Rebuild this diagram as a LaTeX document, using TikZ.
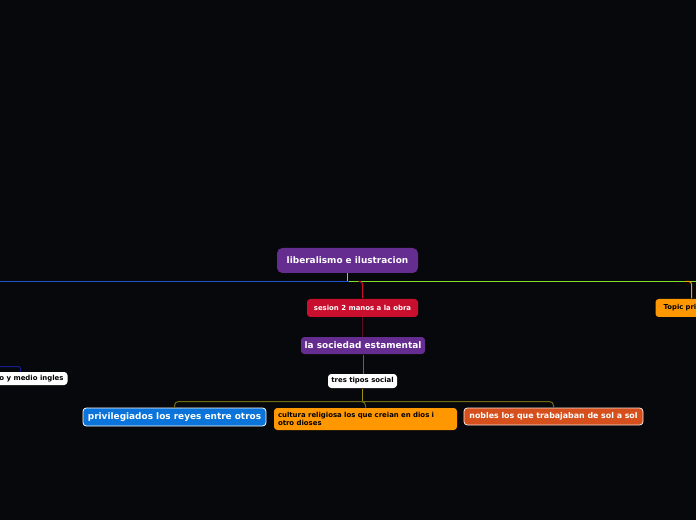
\documentclass[tikz,border=0pt]{standalone}
\usepackage{fontspec}
\setmainfont{DejaVu Sans}
\usetikzlibrary{positioning}

\definecolor{bgdark}{RGB}{7,8,11}
\definecolor{mmpurple}{RGB}{102,45,145}
\definecolor{mmred}{RGB}{200,16,46}
\definecolor{mmblue}{RGB}{10,116,218}
\definecolor{mmorange}{RGB}{255,152,0}
\definecolor{mmrust}{RGB}{214,80,30}
\definecolor{linelime}{RGB}{128,224,40}
\definecolor{lineblue}{RGB}{30,80,200}
\definecolor{linenavy}{RGB}{20,30,140}
\definecolor{linemaroon}{RGB}{95,12,32}
\definecolor{lineolive}{RGB}{115,105,15}
\definecolor{lineyellow}{RGB}{160,145,20}

\begin{document}
\begin{tikzpicture}[x=0.75pt,y=-0.75pt,line width=0.75pt,
  box/.style={rounded corners=2.5pt,inner sep=0pt,align=center,text=white,
    font=\bfseries\fontsize{5.2}{6}\selectfont},
  bigtext/.style={font=\bfseries\fontsize{6.7}{8}\selectfont}]
  % canvas 696 x 520 px, 1 px = 0.75 pt
  \fill[bgdark] (0,0) rectangle (696,520);
  \clip (0,0) rectangle (696,520);

  \node[box,bigtext,fill=mmpurple,rounded corners=4pt,minimum width=105.75pt,minimum height=18.75pt] (root) at (347.5,260.5) {liberalismo e ilustracion};
  \node[box,fill=mmred,minimum width=83.25pt,minimum height=13.5pt] (sesion) at (362.5,308) {sesion 2 manos a la obra};
  \node[box,bigtext,fill=mmpurple,minimum width=93pt,minimum height=12.75pt] (sociedad) at (363,345.5) {la sociedad estamental};
  \node[box,fill=white,text=black,minimum width=51.75pt,minimum height=10.5pt] (tres) at (362.5,381) {tres tipos social};
  \node[box,bigtext,fill=mmblue,draw=white,line width=0.6pt,minimum width=137.25pt,minimum height=13.5pt] (priv) at (174.5,417) {privilegiados los reyes entre otros};
  \node[box,fill=mmorange,text=black,align=left,text width=131.25pt,inner xsep=3pt,minimum height=16.5pt] (cultura) at (365.5,419) {cultura religiosa los que creian en dios i\\otro dioses};
  \node[box,fill=mmrust,draw=white!85!mmrust,line width=0.6pt,minimum width=134.25pt,minimum height=12.75pt,font=\bfseries\fontsize{5.9}{7}\selectfont] (nobles) at (553.5,416.5) {nobles los que trabajaban de sol a sol};
  \node[box,fill=mmorange,text=black,anchor=west,minimum width=54pt,minimum height=13.5pt,font=\bfseries\fontsize{5.1}{6}\selectfont] (topic) at (655,308) {Topic principal};
  \node[box,fill=white,text=black,anchor=east,inner xsep=3pt,minimum height=9.75pt] (medio) at (68,378.5) {o y medio ingles};

  % connectors
  \coordinate (rail) at (348.5,281.5);
  \coordinate (railwest) at (-10,281.5);
  \coordinate (raileast) at (710,281.5);
  \coordinate (bus) at (362.5,401.5);
  \coordinate (leftin) at (-10,366.5);
  \coordinate (leftdrop) at (20.5,366.5);
  \draw[linelime] (rail -| root.south) |- (raileast);
  \draw[lineblue] (rail) -- (railwest);
  \draw[mmred,rounded corners=2pt] ([xshift=-3pt]sesion.north |- rail) -| (sesion.north);
  \draw[mmorange,rounded corners=2pt] ([xshift=-4pt]topic.north |- rail) -| (topic.north);
  \draw[linemaroon] (sesion.south) -- (sesion.south |- sociedad.north);
  \draw[lineolive] (sociedad.south) -- (sociedad.south |- tres.north);
  \draw[lineyellow] (tres.south) -- (bus);
  \foreach \kid in {priv,cultura,nobles}
    \draw[lineolive,rounded corners=3pt] (bus) -| (\kid.north);
  \draw[linenavy,rounded corners=1.5pt] (leftin) -| (medio.north -| leftdrop);
  \draw[linelime] (root.south) -- (root.south |- rail);
\end{tikzpicture}
\end{document}
